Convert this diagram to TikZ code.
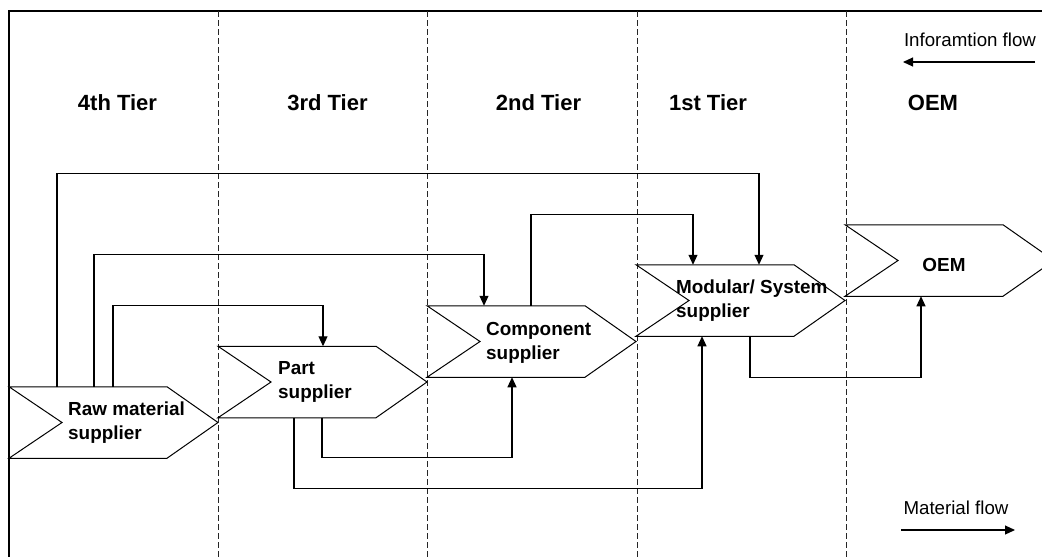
\documentclass[tikz,border=0pt]{standalone}
\usepackage{fontspec}
\setmainfont{Liberation Sans}
\usetikzlibrary{arrows.meta,calc}
\tikzset{
  box/.style={minimum width=209pt,minimum height=71.5pt,inner sep=0pt,outer sep=0pt},
  chev/.style={draw=black,line width=1pt,fill=white,line join=miter},
  boxlbl/.style={anchor=west,align=left,inner sep=0pt,font=\bfseries\fontsize{18.9}{24}\selectfont},
  tier/.style={inner sep=0pt,font=\bfseries\fontsize{22}{24}\selectfont},
  legend/.style={inner sep=0pt,font=\fontsize{18.7}{22}\selectfont},
  flow/.style={draw=black,line width=1.1pt,-{Triangle[length=10pt,width=9pt]}},
  divider/.style={draw=black!85,line width=0.9pt,dash pattern=on 6pt off 3pt}
}
\newcommand{\chevron}[1]{%
  \path[chev] (#1.north west) -- ([xshift=-51pt]#1.north east) -- (#1.east)
    -- ([xshift=-51pt]#1.south east) -- (#1.south west) -- ([xshift=53pt]#1.west) -- cycle;}
\begin{document}
\begin{tikzpicture}[x=1pt,y=-1pt]
\clip (0,0) rectangle (1042,557);
\fill[white] (0,0) rectangle (1042,557);
% frame
\draw[line width=1.3pt] (9,557) -- (9,11) -- (1042,11);
% dividers
\foreach \xx in {218,427,637,846}{\draw[divider] (\xx,11) -- (\xx,557);}
% tier labels
\node[tier] (t4) at (117.5,103) {4th Tier};
\node[tier] (t3) at (327.5,103) {3rd Tier};
\node[tier] (t2) at (538.5,103) {2nd Tier};
\node[tier] (t1) at (708,103) {1st Tier};
\node[tier] (t0) at (933,103) {OEM};
% legend
\node[legend] (info) at (970,40) {Inforamtion flow};
\coordinate (infoR) at (1035,62);
\coordinate (infoL) at (903,62);
\draw[flow] (infoR) -- (infoL);
\node[legend] (mat) at (956,508) {Material flow};
\coordinate (matL) at (901,530);
\coordinate (matR) at (1015,530);
\draw[flow] (matL) -- (matR);
% boxes
\node[box] (raw) at (113.5,422.5) {};
\node[box] (part) at (322.5,382) {};
\node[box] (comp) at (531.5,341.5) {};
\node[box] (mod) at (740.5,300.5) {};
\node[box] (oem) at (949.5,260.5) {};
\chevron{raw}\chevron{part}\chevron{comp}\chevron{mod}\chevron{oem}
\node[boxlbl] (rawl) at ([xshift=59pt]raw.west) {Raw material\\supplier};
\node[boxlbl] (partl) at ([xshift=60pt]part.west) {Part\\supplier};
\node[boxlbl] (compl) at ([xshift=59pt,yshift=-1pt]comp.west) {Component\\supplier};
\node[boxlbl] (modl) at ([xshift=40pt]mod.west) {Modular/ System\\supplier};
\node[boxlbl,anchor=center] (oeml) at ([xshift=-5.5pt,yshift=-4.5pt]oem.center) {OEM};
% information / material connectors
\draw[flow] ([xshift=48pt]raw.north west) -- ++(0,-213) -| ([xshift=123pt]mod.north west);
\draw[flow] ([xshift=85pt]raw.north west) -- ++(0,-132) -| ([xshift=57pt]comp.north west);
\draw[flow] ([xshift=104pt]raw.north west) -- ++(0,-81) -| ([xshift=105pt]part.north west);
\draw[flow] ([xshift=104pt]comp.north west) -- ++(0,-91) -| ([xshift=57pt]mod.north west);
\draw[flow] ([xshift=104pt]part.south west) -- ++(0,40) -| ([xshift=85pt]comp.south west);
\draw[flow] ([xshift=76pt]part.south west) -- ++(0,71) -| ([xshift=66pt]mod.south west);
\draw[flow] ([xshift=114pt]mod.south west) -- ++(0,41) -| ([xshift=76pt]oem.south west);
\end{tikzpicture}
\end{document}
